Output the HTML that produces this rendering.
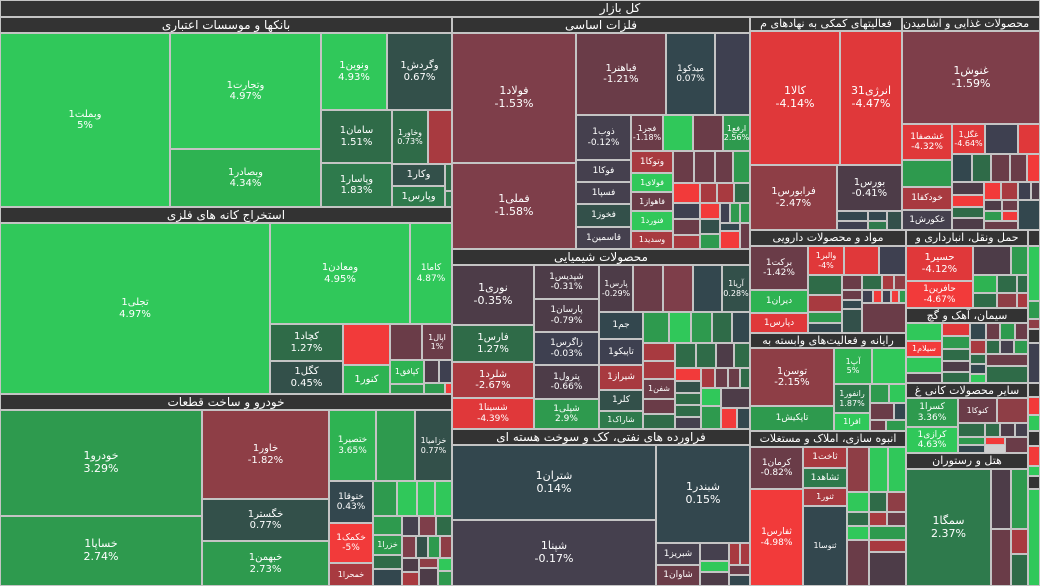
<!DOCTYPE html>
<html><head><meta charset="utf-8"><style>
*{margin:0;padding:0}
body{width:1040px;height:586px;background:#d0d0d0;position:relative;overflow:hidden}
.c,.h{position:absolute;box-sizing:border-box;overflow:hidden;color:#fff;text-align:center;font-family:"DejaVu Sans","Liberation Sans",sans-serif}
.c{border:1px solid #c4c4c4;display:flex;flex-direction:column;align-items:center;justify-content:center;font-size:10px;line-height:1.15}
.h{background:#333;border:1px solid #c4c4c4;font-size:12px;line-height:14px;white-space:nowrap}
.g1{background:#30c85a}.g2{background:#2e9a4e}.g4{background:#2eb352}.g3{background:#2f6b48}.g5{background:#2e7a4c}
.s1{background:#33474e}.s2{background:#33504a}.p1{background:#45404e}.p2{background:#4d3c48}.q{background:#3e4050}
.m1{background:#7e3e4a}.m2{background:#6a3c48}.r1{background:#a83a40}.r2{background:#e0383a}.r3{background:#f23a3a}.m3{background:#8e3e46}
</style></head><body>
<div class="h" style="left:0;top:0;width:1040px;height:17px;padding-left:200px">کل بازار</div>

<!-- banks -->
<div class="h" style="left:0;top:17px;width:452px;height:16px">بانکها و موسسات اعتباری</div>
<div class="c g1" style="left:0;top:33px;width:170px;height:174px">وبملت1<br>5%</div>
<div class="c g1" style="left:170px;top:33px;width:151px;height:116px">وتجارت1<br>4.97%</div>
<div class="c g4" style="left:170px;top:149px;width:151px;height:58px">وبصادر1<br>4.34%</div>
<div class="c g1" style="left:321px;top:33px;width:66px;height:77px">ونوین1<br>4.93%</div>
<div class="c s2" style="left:387px;top:33px;width:65px;height:77px">وگردش1<br>0.67%</div>
<div class="c g3" style="left:321px;top:110px;width:71px;height:53px">سامان1<br>1.51%</div>
<div class="c g5" style="left:321px;top:163px;width:71px;height:44px">وپاسار1<br>1.83%</div>
<div class="c g3" style="left:392px;top:110px;width:36px;height:54px;font-size:8px">وخاور1<br>0.73%</div>
<div class="c r1" style="left:428px;top:110px;width:24px;height:54px"></div>
<div class="c s2" style="left:392px;top:164px;width:53px;height:22px">وکار1</div>
<div class="c g5" style="left:392px;top:186px;width:53px;height:21px">وپارس1</div>
<div class="c g3" style="left:445px;top:164px;width:7px;height:27px"></div>
<div class="c g5" style="left:445px;top:191px;width:7px;height:16px"></div>

<!-- extraction -->
<div class="h" style="left:0;top:207px;width:452px;height:16px">استخراج کانه های فلزی</div>
<div class="c g1" style="left:0;top:223px;width:270px;height:171px">تجلی1<br>4.97%</div>
<div class="c g1" style="left:270px;top:223px;width:140px;height:101px">ومعادن1<br>4.95%</div>
<div class="c g1" style="left:410px;top:223px;width:42px;height:101px;font-size:9px">کاما1<br>4.87%</div>
<div class="c g3" style="left:270px;top:324px;width:73px;height:37px">کچاد1<br>1.27%</div>
<div class="c s2" style="left:270px;top:361px;width:73px;height:33px">کگل1<br>0.45%</div>
<div class="c r3" style="left:343px;top:324px;width:47px;height:41px"></div>
<div class="c g4" style="left:343px;top:365px;width:47px;height:29px">کنور1</div>
<div class="c m2" style="left:390px;top:324px;width:32px;height:36px"></div>
<div class="c m2" style="left:422px;top:324px;width:30px;height:36px;font-size:8px">اپال1<br>1%</div>
<div class="c g4" style="left:390px;top:360px;width:34px;height:24px;font-size:8px">کپافق1</div>
<div class="c g2" style="left:390px;top:384px;width:34px;height:10px"></div>
<div class="c p2" style="left:424px;top:360px;width:15px;height:23px"></div>
<div class="c q" style="left:439px;top:360px;width:13px;height:23px"></div>
<div class="c g2" style="left:424px;top:383px;width:21px;height:11px"></div>
<div class="c r3" style="left:445px;top:383px;width:7px;height:11px"></div>

<!-- auto -->
<div class="h" style="left:0;top:394px;width:452px;height:16px">خودرو و ساخت قطعات</div>
<div class="c g2" style="left:0;top:410px;width:202px;height:106px;font-size:11px">خودرو1<br>3.29%</div>
<div class="c g2" style="left:0;top:516px;width:202px;height:70px;font-size:11px">خساپا1<br>2.74%</div>
<div class="c m3" style="left:202px;top:410px;width:127px;height:89px">خاور1<br>-1.82%</div>
<div class="c s2" style="left:202px;top:499px;width:127px;height:42px">خگستر1<br>0.77%</div>
<div class="c g2" style="left:202px;top:541px;width:127px;height:45px">خبهمن1<br>2.73%</div>
<div class="c g4" style="left:329px;top:410px;width:47px;height:71px;font-size:9px">ختصیر1<br>3.65%</div>
<div class="c g2" style="left:376px;top:410px;width:39px;height:71px"></div>
<div class="c s2" style="left:415px;top:410px;width:37px;height:71px;font-size:8px">خزامیا1<br>0.77%</div>
<div class="c s1" style="left:329px;top:481px;width:44px;height:42px;font-size:9px">ختوقا1<br>0.43%</div>
<div class="c r3" style="left:329px;top:523px;width:44px;height:40px;font-size:9px">خکمک1<br>-5%</div>
<div class="c r1" style="left:329px;top:563px;width:44px;height:23px;font-size:8px">خمحرا1</div>
<div class="c g2" style="left:373px;top:481px;width:24px;height:35px"></div>
<div class="c g1" style="left:397px;top:481px;width:20px;height:35px"></div>
<div class="c g1" style="left:417px;top:481px;width:18px;height:35px"></div>
<div class="c g1" style="left:435px;top:481px;width:17px;height:35px"></div>
<div class="c g2" style="left:373px;top:516px;width:29px;height:19px"></div>
<div class="c g2" style="left:373px;top:535px;width:29px;height:20px;font-size:8px">خزرا1</div>
<div class="c g3" style="left:373px;top:555px;width:29px;height:14px"></div>
<div class="c s1" style="left:373px;top:569px;width:29px;height:17px"></div>
<div class="c p1" style="left:402px;top:516px;width:17px;height:20px"></div>
<div class="c m1" style="left:419px;top:516px;width:17px;height:20px"></div>
<div class="c g3" style="left:436px;top:516px;width:16px;height:20px"></div>
<div class="c m1" style="left:402px;top:536px;width:14px;height:22px"></div>
<div class="c s2" style="left:416px;top:536px;width:12px;height:22px"></div>
<div class="c g2" style="left:428px;top:536px;width:12px;height:22px"></div>
<div class="c m3" style="left:440px;top:536px;width:12px;height:22px"></div>
<div class="c p2" style="left:402px;top:558px;width:17px;height:14px"></div>
<div class="c r1" style="left:402px;top:572px;width:17px;height:14px"></div>
<div class="c m3" style="left:419px;top:558px;width:19px;height:10px"></div>
<div class="c p2" style="left:419px;top:568px;width:19px;height:18px"></div>
<div class="c g1" style="left:438px;top:558px;width:14px;height:13px"></div>
<div class="c g2" style="left:438px;top:571px;width:14px;height:15px"></div>

<!-- basic metals -->
<div class="h" style="left:452px;top:17px;width:298px;height:16px">فلزات اساسی</div>
<div class="c m1" style="left:452px;top:33px;width:124px;height:130px;font-size:11px">فولاد1<br>-1.53%</div>
<div class="c m1" style="left:452px;top:163px;width:124px;height:86px;font-size:11px">فملی1<br>-1.58%</div>
<div class="c m2" style="left:576px;top:33px;width:90px;height:82px">فباهنر1<br>-1.21%</div>
<div class="c s1" style="left:666px;top:33px;width:49px;height:82px;font-size:9px">میدکو1<br>0.07%</div>
<div class="c q" style="left:715px;top:33px;width:35px;height:82px"></div>
<div class="c p1" style="left:576px;top:115px;width:55px;height:45px;font-size:9px">ذوب1<br>-0.12%</div>
<div class="c m2" style="left:631px;top:115px;width:32px;height:36px;font-size:8px">فجر1<br>-1.18%</div>
<div class="c g1" style="left:663px;top:115px;width:30px;height:36px"></div>
<div class="c m2" style="left:693px;top:115px;width:30px;height:36px"></div>
<div class="c g2" style="left:723px;top:115px;width:27px;height:36px;font-size:8px">ارفع1<br>2.56%</div>
<div class="c p1" style="left:576px;top:160px;width:55px;height:22px;font-size:9px">فوکا1</div>
<div class="c p1" style="left:576px;top:182px;width:55px;height:22px;font-size:9px">فسپا1</div>
<div class="c s2" style="left:576px;top:204px;width:55px;height:23px;font-size:9px">فخوز1</div>
<div class="c p1" style="left:576px;top:227px;width:55px;height:22px;font-size:9px">قاسمین1</div>
<div class="c r1" style="left:631px;top:151px;width:42px;height:22px;font-size:9px">وتوکا1</div>
<div class="c g1" style="left:631px;top:173px;width:42px;height:19px;font-size:8px">فولای1</div>
<div class="c m2" style="left:631px;top:192px;width:42px;height:19px;font-size:8px">فاهواز1</div>
<div class="c g1" style="left:631px;top:211px;width:42px;height:20px;font-size:8px">فنورد1</div>
<div class="c r1" style="left:631px;top:231px;width:42px;height:18px;font-size:8px">وسدید1</div>
<div class="c m2" style="left:673px;top:151px;width:21px;height:32px"></div>
<div class="c m2" style="left:694px;top:151px;width:21px;height:32px"></div>
<div class="c m2" style="left:715px;top:151px;width:18px;height:32px"></div>
<div class="c g2" style="left:733px;top:151px;width:17px;height:32px"></div>
<div class="c r3" style="left:673px;top:183px;width:27px;height:20px"></div>
<div class="c r1" style="left:700px;top:183px;width:17px;height:20px"></div>
<div class="c r1" style="left:717px;top:183px;width:17px;height:20px"></div>
<div class="c g3" style="left:734px;top:183px;width:16px;height:20px"></div>
<div class="c q" style="left:673px;top:203px;width:27px;height:16px"></div>
<div class="c r3" style="left:700px;top:203px;width:20px;height:16px"></div>
<div class="c q" style="left:720px;top:203px;width:10px;height:20px"></div>
<div class="c g2" style="left:730px;top:203px;width:10px;height:20px"></div>
<div class="c g2" style="left:740px;top:203px;width:10px;height:20px"></div>
<div class="c m2" style="left:673px;top:219px;width:27px;height:16px"></div>
<div class="c r1" style="left:673px;top:235px;width:27px;height:14px"></div>
<div class="c s2" style="left:700px;top:219px;width:20px;height:15px"></div>
<div class="c g2" style="left:700px;top:234px;width:20px;height:15px"></div>
<div class="c s1" style="left:720px;top:223px;width:20px;height:8px"></div>
<div class="c r3" style="left:720px;top:231px;width:20px;height:18px"></div>
<div class="c m2" style="left:740px;top:223px;width:10px;height:26px"></div>

<!-- chemical -->
<div class="h" style="left:452px;top:249px;width:298px;height:16px">محصولات شیمیایی</div>
<div class="c p2" style="left:452px;top:265px;width:82px;height:60px;font-size:11px">نوری1<br>-0.35%</div>
<div class="c g3" style="left:452px;top:325px;width:82px;height:37px">فارس1<br>1.27%</div>
<div class="c r1" style="left:452px;top:362px;width:82px;height:36px">شلرد1<br>-2.67%</div>
<div class="c r2" style="left:452px;top:398px;width:82px;height:31px;font-size:9px">شسینا1<br>-4.39%</div>
<div class="c p2" style="left:534px;top:265px;width:65px;height:34px;font-size:9px">شپدیس1<br>-0.31%</div>
<div class="c p2" style="left:534px;top:299px;width:65px;height:33px;font-size:9px">پارسان1<br>-0.79%</div>
<div class="c q" style="left:534px;top:332px;width:65px;height:33px;font-size:9px">زاگرس1<br>-0.03%</div>
<div class="c p2" style="left:534px;top:365px;width:65px;height:34px;font-size:9px">پترول1<br>-0.66%</div>
<div class="c g2" style="left:534px;top:399px;width:65px;height:30px;font-size:9px">شپلی1<br>2.9%</div>
<div class="c p2" style="left:599px;top:265px;width:34px;height:47px;font-size:8px">پارس1<br>-0.29%</div>
<div class="c m2" style="left:633px;top:265px;width:30px;height:47px"></div>
<div class="c m1" style="left:663px;top:265px;width:30px;height:47px"></div>
<div class="c s1" style="left:693px;top:265px;width:29px;height:47px"></div>
<div class="c s2" style="left:722px;top:265px;width:28px;height:47px;font-size:8px">آریا1<br>0.28%</div>
<div class="c s1" style="left:599px;top:312px;width:44px;height:27px;font-size:9px">جم1</div>
<div class="c q" style="left:599px;top:339px;width:44px;height:26px;font-size:9px">تاپیکو1</div>
<div class="c r1" style="left:599px;top:365px;width:44px;height:25px;font-size:9px">شیراز1</div>
<div class="c s2" style="left:599px;top:390px;width:44px;height:21px;font-size:9px">کلر1</div>
<div class="c g5" style="left:599px;top:411px;width:44px;height:18px;font-size:8px">شاراک1</div>
<div class="c g2" style="left:643px;top:312px;width:26px;height:31px"></div>
<div class="c g1" style="left:669px;top:312px;width:22px;height:31px"></div>
<div class="c g2" style="left:691px;top:312px;width:21px;height:31px"></div>
<div class="c g3" style="left:712px;top:312px;width:20px;height:31px"></div>
<div class="c s1" style="left:732px;top:312px;width:18px;height:31px"></div>
<div class="c r1" style="left:643px;top:343px;width:32px;height:18px"></div>
<div class="c r1" style="left:643px;top:361px;width:32px;height:18px"></div>
<div class="c m2" style="left:643px;top:379px;width:32px;height:20px;font-size:8px">شفن1</div>
<div class="c m2" style="left:643px;top:399px;width:32px;height:15px"></div>
<div class="c g3" style="left:643px;top:414px;width:32px;height:15px"></div>
<div class="c g3" style="left:675px;top:343px;width:21px;height:25px"></div>
<div class="c g3" style="left:696px;top:343px;width:20px;height:25px"></div>
<div class="c p2" style="left:716px;top:343px;width:18px;height:25px"></div>
<div class="c g3" style="left:734px;top:343px;width:16px;height:25px"></div>
<div class="c r3" style="left:675px;top:368px;width:26px;height:13px"></div>
<div class="c r1" style="left:701px;top:368px;width:14px;height:20px"></div>
<div class="c m2" style="left:715px;top:368px;width:13px;height:20px"></div>
<div class="c m2" style="left:728px;top:368px;width:12px;height:20px"></div>
<div class="c g3" style="left:740px;top:368px;width:10px;height:20px"></div>
<div class="c s2" style="left:675px;top:381px;width:26px;height:12px"></div>
<div class="c g3" style="left:675px;top:393px;width:26px;height:12px"></div>
<div class="c g3" style="left:675px;top:405px;width:26px;height:12px"></div>
<div class="c p1" style="left:675px;top:417px;width:26px;height:12px"></div>
<div class="c g1" style="left:701px;top:388px;width:20px;height:18px"></div>
<div class="c g2" style="left:701px;top:406px;width:20px;height:23px"></div>
<div class="c p2" style="left:721px;top:388px;width:29px;height:20px"></div>
<div class="c r3" style="left:721px;top:408px;width:16px;height:21px"></div>
<div class="c s1" style="left:737px;top:408px;width:13px;height:21px"></div>

<!-- refinery -->
<div class="h" style="left:452px;top:429px;width:298px;height:16px">فراورده های نفتی، کک و سوخت هسته ای</div>
<div class="c s1" style="left:452px;top:445px;width:204px;height:75px;font-size:11px">شتران1<br>0.14%</div>
<div class="c p1" style="left:452px;top:520px;width:204px;height:66px;font-size:11px">شپنا1<br>-0.17%</div>
<div class="c s1" style="left:656px;top:445px;width:94px;height:98px;font-size:11px">شبندر1<br>0.15%</div>
<div class="c p1" style="left:656px;top:543px;width:44px;height:22px;font-size:9px">شبریز1</div>
<div class="c m2" style="left:656px;top:565px;width:44px;height:21px;font-size:9px">شاوان1</div>
<div class="c p1" style="left:700px;top:543px;width:29px;height:18px"></div>
<div class="c g1" style="left:700px;top:561px;width:29px;height:11px"></div>
<div class="c p2" style="left:700px;top:572px;width:29px;height:14px"></div>
<div class="c r1" style="left:729px;top:543px;width:11px;height:22px"></div>
<div class="c r1" style="left:740px;top:543px;width:10px;height:22px"></div>
<div class="c m2" style="left:729px;top:565px;width:21px;height:10px"></div>
<div class="c s1" style="left:729px;top:575px;width:21px;height:11px"></div>

<!-- activity -->
<div class="h" style="left:750px;top:17px;width:152px;height:14px;font-size:11px;line-height:12px">فعالیتهای کمکی به نهادهای م</div>
<div class="c r2" style="left:750px;top:31px;width:90px;height:134px;font-size:11px">کالا1<br>-4.14%</div>
<div class="c r2" style="left:840px;top:31px;width:62px;height:134px;font-size:11px">انرژی31<br>-4.47%</div>
<div class="c m3" style="left:750px;top:165px;width:87px;height:65px">فرابورس1<br>-2.47%</div>
<div class="c p2" style="left:837px;top:165px;width:65px;height:46px">بورس1<br>-0.41%</div>
<div class="c s1" style="left:837px;top:211px;width:31px;height:10px"></div>
<div class="c s1" style="left:868px;top:211px;width:19px;height:10px"></div>
<div class="c s2" style="left:887px;top:211px;width:15px;height:19px"></div>
<div class="c q" style="left:837px;top:221px;width:31px;height:9px"></div>
<div class="c g5" style="left:868px;top:221px;width:19px;height:9px"></div>

<!-- food -->
<div class="h" style="left:902px;top:17px;width:138px;height:14px;font-size:11px;line-height:12px;text-align:left">محصولات غذایی و آشامیدن</div>
<div class="c m1" style="left:902px;top:31px;width:138px;height:93px;font-size:11px">غنوش1<br>-1.59%</div>
<div class="c r2" style="left:902px;top:124px;width:50px;height:36px;font-size:9px">غشصفا1<br>-4.32%</div>
<div class="c r2" style="left:952px;top:124px;width:33px;height:30px;font-size:8px">غگل1<br>-4.64%</div>
<div class="c q" style="left:985px;top:124px;width:33px;height:30px"></div>
<div class="c r2" style="left:1018px;top:124px;width:22px;height:30px"></div>
<div class="c s1" style="left:952px;top:154px;width:20px;height:28px"></div>
<div class="c g3" style="left:972px;top:154px;width:19px;height:28px"></div>
<div class="c m2" style="left:991px;top:154px;width:19px;height:28px"></div>
<div class="c m2" style="left:1010px;top:154px;width:17px;height:28px"></div>
<div class="c r3" style="left:1027px;top:154px;width:13px;height:28px"></div>
<div class="c g2" style="left:902px;top:160px;width:50px;height:27px"></div>
<div class="c r1" style="left:902px;top:187px;width:50px;height:23px;font-size:9px">خودکفا1</div>
<div class="c p1" style="left:902px;top:210px;width:50px;height:20px;font-size:9px">غکورش1</div>
<div class="c p2" style="left:952px;top:182px;width:32px;height:13px"></div>
<div class="c r3" style="left:952px;top:195px;width:32px;height:12px"></div>
<div class="c g3" style="left:952px;top:207px;width:32px;height:11px"></div>
<div class="c p2" style="left:952px;top:218px;width:32px;height:12px"></div>
<div class="c r3" style="left:984px;top:182px;width:17px;height:18px"></div>
<div class="c r1" style="left:1001px;top:182px;width:17px;height:18px"></div>
<div class="c q" style="left:1018px;top:182px;width:13px;height:18px"></div>
<div class="c p2" style="left:1031px;top:182px;width:9px;height:18px"></div>
<div class="c p2" style="left:984px;top:200px;width:18px;height:11px"></div>
<div class="c g2" style="left:984px;top:211px;width:18px;height:10px"></div>
<div class="c r3" style="left:1002px;top:211px;width:16px;height:10px"></div>
<div class="c m2" style="left:1002px;top:200px;width:16px;height:11px"></div>
<div class="c s1" style="left:1018px;top:200px;width:22px;height:30px"></div>
<div class="c m2" style="left:984px;top:221px;width:34px;height:9px"></div>

<!-- pharma -->
<div class="h" style="left:750px;top:230px;width:156px;height:16px;font-size:11px">مواد و محصولات دارویی</div>
<div class="c m2" style="left:750px;top:246px;width:58px;height:44px;font-size:9px">برکت1<br>-1.42%</div>
<div class="c g4" style="left:750px;top:290px;width:58px;height:23px;font-size:9px">دیران1</div>
<div class="c r2" style="left:750px;top:313px;width:58px;height:20px;font-size:9px">دپارس1</div>
<div class="c r2" style="left:808px;top:246px;width:36px;height:29px;font-size:8px">والبر1<br>-4%</div>
<div class="c r2" style="left:844px;top:246px;width:35px;height:29px"></div>
<div class="c q" style="left:879px;top:246px;width:27px;height:29px"></div>
<div class="c g3" style="left:808px;top:275px;width:34px;height:20px"></div>
<div class="c r1" style="left:808px;top:295px;width:34px;height:17px"></div>
<div class="c g2" style="left:808px;top:312px;width:34px;height:11px"></div>
<div class="c s1" style="left:808px;top:323px;width:34px;height:10px"></div>
<div class="c m2" style="left:842px;top:275px;width:20px;height:15px"></div>
<div class="c g3" style="left:862px;top:275px;width:20px;height:15px"></div>
<div class="c r1" style="left:882px;top:275px;width:12px;height:15px"></div>
<div class="c m3" style="left:894px;top:275px;width:12px;height:15px"></div>
<div class="c m2" style="left:842px;top:290px;width:20px;height:10px"></div>
<div class="c s1" style="left:842px;top:300px;width:20px;height:9px"></div>
<div class="c q" style="left:862px;top:290px;width:11px;height:13px"></div>
<div class="c r3" style="left:873px;top:290px;width:9px;height:13px"></div>
<div class="c q" style="left:882px;top:290px;width:9px;height:13px"></div>
<div class="c r3" style="left:891px;top:290px;width:8px;height:13px"></div>
<div class="c g2" style="left:899px;top:290px;width:7px;height:13px"></div>
<div class="c s2" style="left:842px;top:309px;width:20px;height:24px"></div>
<div class="c m2" style="left:862px;top:303px;width:44px;height:30px"></div>

<!-- computer -->
<div class="h" style="left:750px;top:333px;width:156px;height:15px;font-size:11px;line-height:13px">رایانه و فعالیت‌های وابسته به</div>
<div class="c m3" style="left:750px;top:348px;width:84px;height:58px">توسن1<br>-2.15%</div>
<div class="c g2" style="left:750px;top:406px;width:84px;height:25px;font-size:9px">تاپکیش1</div>
<div class="c g4" style="left:834px;top:348px;width:38px;height:36px;font-size:8px">آپ1<br>5%</div>
<div class="c g1" style="left:872px;top:348px;width:34px;height:36px"></div>
<div class="c g5" style="left:834px;top:384px;width:36px;height:29px;font-size:8px">رانفور1<br>1.87%</div>
<div class="c g1" style="left:834px;top:413px;width:36px;height:18px;font-size:8px">افرا1</div>
<div class="c g2" style="left:870px;top:384px;width:19px;height:19px"></div>
<div class="c g1" style="left:889px;top:384px;width:17px;height:19px"></div>
<div class="c m2" style="left:870px;top:403px;width:24px;height:17px"></div>
<div class="c s1" style="left:894px;top:403px;width:12px;height:17px"></div>
<div class="c m2" style="left:870px;top:420px;width:16px;height:11px"></div>
<div class="c g2" style="left:886px;top:420px;width:20px;height:11px"></div>

<!-- housing -->
<div class="h" style="left:750px;top:431px;width:156px;height:16px;font-size:11px">انبوه سازی، املاک و مستغلات</div>
<div class="c m2" style="left:750px;top:447px;width:53px;height:42px;font-size:9px">کرمان1<br>-0.82%</div>
<div class="c r3" style="left:750px;top:489px;width:53px;height:97px;font-size:9px">ثفارس1<br>-4.98%</div>
<div class="c r1" style="left:803px;top:447px;width:44px;height:21px;font-size:9px">ثاخت1</div>
<div class="c g5" style="left:803px;top:468px;width:44px;height:20px;font-size:9px">ثشاهد1</div>
<div class="c r1" style="left:803px;top:488px;width:44px;height:18px;font-size:8px">ثنور1</div>
<div class="c s1" style="left:803px;top:506px;width:44px;height:80px;font-size:8px">ثنوسا1</div>
<div class="c m3" style="left:847px;top:447px;width:22px;height:45px"></div>
<div class="c g1" style="left:869px;top:447px;width:19px;height:45px"></div>
<div class="c g1" style="left:888px;top:447px;width:18px;height:45px"></div>
<div class="c g1" style="left:847px;top:492px;width:22px;height:20px"></div>
<div class="c g3" style="left:869px;top:492px;width:18px;height:20px"></div>
<div class="c m3" style="left:887px;top:492px;width:19px;height:20px"></div>
<div class="c g3" style="left:847px;top:512px;width:22px;height:14px"></div>
<div class="c g1" style="left:847px;top:526px;width:22px;height:14px"></div>
<div class="c r1" style="left:869px;top:512px;width:18px;height:14px"></div>
<div class="c m2" style="left:887px;top:512px;width:19px;height:14px"></div>
<div class="c m2" style="left:847px;top:540px;width:22px;height:46px"></div>
<div class="c g2" style="left:869px;top:526px;width:37px;height:14px"></div>
<div class="c r1" style="left:869px;top:540px;width:37px;height:12px"></div>
<div class="c p2" style="left:869px;top:552px;width:37px;height:34px"></div>

<!-- transport -->
<div class="h" style="left:906px;top:230px;width:122px;height:16px;font-size:11px">حمل ونقل، انبارداری و</div>
<div class="c r2" style="left:906px;top:246px;width:67px;height:35px;font-size:10px">حسیر1<br>-4.12%</div>
<div class="c r3" style="left:906px;top:281px;width:67px;height:27px;font-size:9px">حافرین1<br>-4.67%</div>
<div class="c p2" style="left:973px;top:246px;width:38px;height:29px"></div>
<div class="c g2" style="left:1011px;top:246px;width:17px;height:29px"></div>
<div class="c g4" style="left:973px;top:275px;width:24px;height:18px"></div>
<div class="c g3" style="left:997px;top:275px;width:20px;height:18px"></div>
<div class="c g3" style="left:1017px;top:275px;width:11px;height:18px"></div>
<div class="c g3" style="left:973px;top:293px;width:24px;height:15px"></div>
<div class="c m3" style="left:997px;top:293px;width:20px;height:15px"></div>
<div class="c r1" style="left:1017px;top:293px;width:11px;height:15px"></div>

<!-- cement -->
<div class="h" style="left:906px;top:308px;width:122px;height:15px;font-size:11px;line-height:13px">سیمان، آهک و گچ</div>
<div class="c g1" style="left:906px;top:323px;width:36px;height:18px"></div>
<div class="c r3" style="left:906px;top:341px;width:36px;height:16px;font-size:8px">سیلام1</div>
<div class="c g1" style="left:906px;top:357px;width:36px;height:16px"></div>
<div class="c p2" style="left:906px;top:373px;width:36px;height:10px"></div>
<div class="c r2" style="left:942px;top:323px;width:28px;height:13px"></div>
<div class="c g2" style="left:942px;top:336px;width:28px;height:13px"></div>
<div class="c g3" style="left:942px;top:349px;width:28px;height:12px"></div>
<div class="c p2" style="left:942px;top:361px;width:28px;height:11px"></div>
<div class="c g3" style="left:942px;top:372px;width:28px;height:11px"></div>
<div class="c s1" style="left:970px;top:323px;width:16px;height:17px"></div>
<div class="c m2" style="left:986px;top:323px;width:14px;height:17px"></div>
<div class="c g2" style="left:1000px;top:323px;width:15px;height:17px"></div>
<div class="c m2" style="left:1015px;top:323px;width:13px;height:17px"></div>
<div class="c r1" style="left:970px;top:340px;width:16px;height:14px"></div>
<div class="c g3" style="left:986px;top:340px;width:14px;height:14px"></div>
<div class="c p1" style="left:1000px;top:340px;width:14px;height:14px"></div>
<div class="c g2" style="left:1014px;top:340px;width:14px;height:14px"></div>
<div class="c g3" style="left:970px;top:354px;width:16px;height:10px"></div>
<div class="c m2" style="left:986px;top:354px;width:42px;height:12px"></div>
<div class="c s1" style="left:970px;top:364px;width:16px;height:10px"></div>
<div class="c g1" style="left:970px;top:374px;width:16px;height:9px"></div>
<div class="c g3" style="left:986px;top:366px;width:42px;height:17px"></div>

<!-- other mineral -->
<div class="h" style="left:906px;top:383px;width:122px;height:15px;font-size:11px;line-height:13px">سایر محصولات کانی غ</div>
<div class="c g2" style="left:906px;top:398px;width:52px;height:29px;font-size:9px">کسرا1<br>3.36%</div>
<div class="c g1" style="left:906px;top:427px;width:52px;height:26px;font-size:9px">کرازی1<br>4.63%</div>
<div class="c m2" style="left:958px;top:398px;width:39px;height:25px;font-size:8px">کنوکا1</div>
<div class="c m3" style="left:997px;top:398px;width:31px;height:25px"></div>
<div class="c g3" style="left:958px;top:423px;width:27px;height:14px"></div>
<div class="c g3" style="left:985px;top:423px;width:15px;height:14px"></div>
<div class="c p2" style="left:1000px;top:423px;width:15px;height:14px"></div>
<div class="c p1" style="left:1015px;top:423px;width:13px;height:14px"></div>
<div class="c g2" style="left:958px;top:437px;width:27px;height:8px"></div>
<div class="c s1" style="left:958px;top:445px;width:27px;height:8px"></div>
<div class="c r3" style="left:985px;top:437px;width:20px;height:8px"></div>
<div class="c m2" style="left:1005px;top:437px;width:23px;height:16px"></div>

<!-- hotel -->
<div class="h" style="left:906px;top:453px;width:122px;height:16px;font-size:11px">هتل و رستوران</div>
<div class="c g5" style="left:906px;top:469px;width:85px;height:117px;font-size:11px">سمگا1<br>2.37%</div>
<div class="c p2" style="left:991px;top:469px;width:20px;height:60px"></div>
<div class="c g2" style="left:1011px;top:469px;width:17px;height:60px"></div>
<div class="c m2" style="left:991px;top:529px;width:20px;height:57px"></div>
<div class="c r1" style="left:1011px;top:529px;width:17px;height:25px"></div>
<div class="c g3" style="left:1011px;top:554px;width:17px;height:32px"></div>

<!-- far right strip -->
<div class="h" style="left:1028px;top:230px;width:12px;height:16px"></div>
<div class="c g1" style="left:1028px;top:246px;width:12px;height:55px"></div>
<div class="c g2" style="left:1028px;top:301px;width:12px;height:18px"></div>
<div class="c m3" style="left:1028px;top:319px;width:12px;height:10px"></div>
<div class="h" style="left:1028px;top:329px;width:12px;height:14px"></div>
<div class="c q" style="left:1028px;top:343px;width:12px;height:40px"></div>
<div class="h" style="left:1028px;top:383px;width:12px;height:14px"></div>
<div class="c r3" style="left:1028px;top:397px;width:12px;height:18px"></div>
<div class="c g1" style="left:1028px;top:415px;width:12px;height:16px"></div>
<div class="h" style="left:1028px;top:431px;width:12px;height:15px"></div>
<div class="c r3" style="left:1028px;top:446px;width:12px;height:20px"></div>
<div class="c g1" style="left:1028px;top:466px;width:12px;height:10px"></div>
<div class="h" style="left:1028px;top:476px;width:12px;height:13px"></div>
<div class="c g1" style="left:1028px;top:489px;width:12px;height:97px"></div>
</body></html>
